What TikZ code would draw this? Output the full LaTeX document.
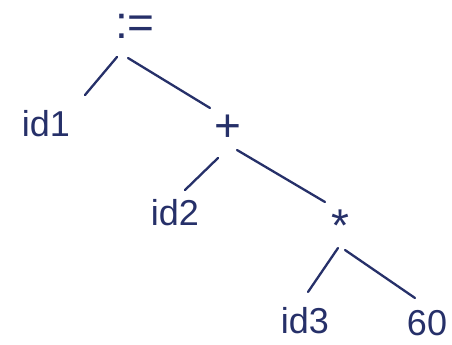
\documentclass[tikz,border=0pt]{standalone}
\usepackage{fontspec}
\setmainfont{Liberation Sans}
\usetikzlibrary{calc}
\definecolor{ink}{RGB}{38,48,105}
\begin{document}
\begin{tikzpicture}[x=1pt,y=-1pt,
  lbl/.style={inner sep=0pt,text=ink,font=\fontsize{36}{36}\selectfont},
  big/.style={lbl,font=\fontsize{46}{46}\selectfont},
  edge/.style={draw=ink,line width=2.3pt,line cap=round}]
\useasboundingbox[fill=white] (0,0) rectangle (452,345);
\node[big] (root) at (135,26) {:=};
\node[lbl] (id1) at (46,124) {id1};
\node[big] (plus) at (228,128) {+};
\node[big] (id2) at (175,213) {\fontsize{36}{36}\selectfont id2};
\node[big] (star) at (340,226) {*};
\node[lbl] (id3) at (305,321) {id3};
\node[lbl] (sixty) at (427,323) {60};
\draw[edge] ($(root.center)+(-18,31)$) -- ($(id1.center)+(39,-29)$);
\draw[edge] ($(root.center)+(-7,32)$) -- ($(plus.center)+(-18,-20)$);
\draw[edge] ($(plus.center)+(-10,30)$) -- ($(id2.center)+(10,-23)$);
\draw[edge] ($(plus.center)+(9,22)$) -- ($(star.center)+(-15,-24)$);
\draw[edge] ($(star.center)+(-2,22)$) -- ($(id3.center)+(3,-29)$);
\draw[edge] ($(star.center)+(5,24)$) -- ($(sixty.center)+(-12,-25)$);
\end{tikzpicture}
\end{document}
